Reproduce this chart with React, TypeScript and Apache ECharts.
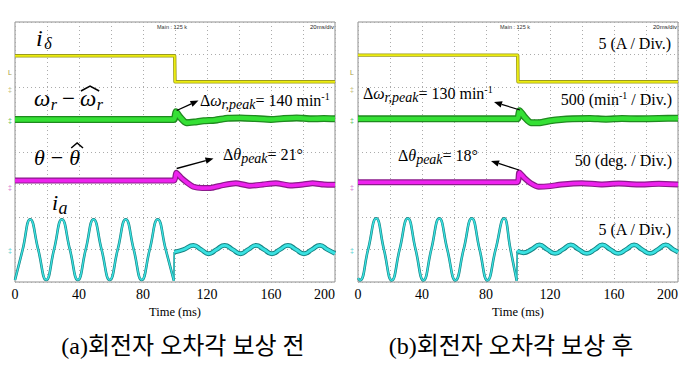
import React, { useEffect, useRef } from 'react';
import * as echarts from 'echarts';

// ---------- data (values in scope divisions: 0 = bottom edge, 8 = top edge) ----------
const TIME_LABELS = [0, 40, 80, 120, 160, 200];
const TIME_NAME = 'Time (ms)';
const CAPTION_A = '(a)회전자 오차각 보상 전';
const CAPTION_B = '(b)회전자 오차각 보상 후';

// (a) before compensation
const iDeltaA: number[][] = [[0, 6.96], [99.8, 6.96], [100, 6.16], [200, 6.16]];
const speedErrA: number[][] = [
  [0, 5.0], [99.2, 5.0], [100.6, 5.24], [103, 5.08], [107, 4.9], [112, 4.92], [118, 4.96],
  [125, 4.98], [133, 5.04], [141, 5.05], [150, 5.03], [160, 5.0], [168, 5.03], [176, 5.05],
  [185, 5.02], [193, 5.03], [200, 5.02],
];
const angleErrA: number[][] = [
  [0, 3.12], [99.4, 3.12], [100.8, 3.36], [104, 3.2], [108, 3.04], [111.5, 2.93], [117, 2.89],
  [123, 2.9], [130, 2.98], [138, 3.04], [147, 2.96], [155, 3.0], [163, 3.04], [172, 2.97],
  [180, 3.0], [186, 3.04], [193, 3.0], [200, 2.99],
];
const iaPreA: number[][] = [
  [0, 0.06], [4.8, 1.0], [9.5, 1.93], [14.5, 1.0], [19.5, 0.06], [24.4, 1.0], [29.3, 1.93],
  [34.3, 1.0], [39.3, 0.06], [44.2, 1.0], [49.1, 1.93], [54.1, 1.0], [59.2, 0.06], [64.2, 1.0],
  [69.2, 1.93], [74.2, 1.0], [79.2, 0.06], [84.2, 1.0], [89.2, 1.93], [94.2, 1.0], [99.3, 0.04],
];
const iaPostA: number[][] = [
  [99.5, 0.92], [105.5, 1.0], [111.5, 1.13], [116.3, 1.0], [121, 0.87], [126, 1.0], [131, 1.13],
  [136, 1.0], [141, 0.87], [145.8, 1.0], [150.6, 1.13], [155.6, 1.0], [160.6, 0.87], [165.6, 1.0],
  [170.6, 1.13], [175.6, 1.0], [180.6, 0.87], [185.6, 1.0], [190.6, 1.13], [195.3, 1.0], [200, 0.88],
];

// (b) after compensation
const iDeltaB: number[][] = [[0, 6.98], [99.8, 6.98], [100, 6.16], [200, 6.16]];
const speedErrB: number[][] = [
  [0, 5.02], [99.5, 5.02], [101, 5.27], [104, 5.08], [108, 4.9], [113, 4.9], [120, 4.96],
  [127, 5.0], [134, 5.02], [145, 5.03], [155, 5.01], [165, 5.03], [175, 5.02], [188, 5.03], [200, 5.04],
];
const angleErrB: number[][] = [
  [0, 3.07], [99.5, 3.07], [100.8, 3.37], [104, 3.2], [108, 3.04], [113, 2.93], [120, 2.95],
  [127, 3.0], [140, 3.04], [152, 3.0], [163, 3.03], [175, 3.0], [188, 3.02], [200, 3.0],
];
const iaPreB: number[][] = [
  [0, 0.12], [1.2, 0.05], [6.3, 1.0], [11.4, 1.96], [16.2, 1.0], [21.1, 0.05], [26, 1.0],
  [31.1, 1.96], [36, 1.0], [40.9, 0.05], [45.8, 1.0], [50.8, 1.96], [55.8, 1.0], [60.9, 0.05],
  [66, 1.0], [71.1, 1.96], [76, 1.0], [80.9, 0.05], [86, 1.0], [91.3, 1.96], [95.3, 1.0],
  [99.2, 0.04],
];
const iaPostB: number[][] = [
  [99.5, 0.96], [103.5, 0.9], [108.4, 1.0], [113.4, 1.14], [118.3, 1.0], [123.2, 0.88],
  [128, 1.0], [133, 1.14], [138, 1.0], [143, 0.88], [148, 1.0], [152.7, 1.14], [157.7, 1.0],
  [162.6, 0.88], [167.6, 1.0], [172.6, 1.14], [177.5, 1.0], [182.5, 0.88], [187.4, 1.0],
  [192.3, 1.14], [197, 1.0], [200, 0.92],
];

// ---------- helpers ----------
const SERIF_CSS = '"Liberation Serif", "Times New Roman", serif';
const SERIF_NAME = 'Liberation Serif';
const SANS = '"Liberation Sans", Arial, sans-serif';
let ctx: CanvasRenderingContext2D | null = null;
function measure(text: string, font: string): number {
  if (!ctx) ctx = document.createElement('canvas').getContext('2d');
  if (!ctx) return text.length * 8;
  ctx.font = font;
  return ctx.measureText(text).width;
}

type Part = { t: string; s: number; it?: boolean; dy?: number; dx?: number; at?: number };
const fontOf = (p: Part) => `${p.it ? 'italic ' : ''}${p.s}px ${SERIF_CSS}`;

function textEl(x: number, baseline: number, text: string, font: string, size: number, fill = '#000') {
  return {
    type: 'text', x, y: baseline - 0.32 * size, z: 100, silent: true,
    style: { text, font, fill, textAlign: 'left', textVerticalAlign: 'middle' },
  };
}

function seq(x0: number, base: number, parts: Part[], align: 'left' | 'right' = 'left') {
  const widths = parts.map((p) => measure(p.t, fontOf(p)) + (p.dx || 0));
  let x = align === 'right' ? x0 - widths.reduce((a, b) => a + b, 0) : x0;
  const els: any[] = [];
  parts.forEach((p) => {
    if (p.at !== undefined) x = p.at;
    else x += p.dx || 0;
    els.push(textEl(x, base + (p.dy || 0), p.t, fontOf(p), p.s));
    x += measure(p.t, fontOf(p));
  });
  return els;
}

function arrow(x1: number, y1: number, x2: number, y2: number) {
  const a = Math.atan2(y2 - y1, x2 - x1);
  const L = 8, W = 3.2;
  const bx = x2 - L * Math.cos(a), by = y2 - L * Math.sin(a);
  const px = -Math.sin(a) * W, py = Math.cos(a) * W;
  return [
    { type: 'line', z: 100, silent: true, shape: { x1, y1, x2: bx, y2: by }, style: { stroke: '#000', lineWidth: 1.3 } },
    { type: 'polygon', z: 100, silent: true, shape: { points: [[x2, y2], [bx + px, by + py], [bx - px, by - py]] }, style: { fill: '#000' } },
  ];
}

function hat(x1: number, x2: number, yBase: number, h: number) {
  return {
    type: 'polyline', z: 100, silent: true,
    shape: { points: [[x1, yBase], [(x1 + x2) / 2, yBase - h], [x2, yBase]] },
    style: { stroke: '#000', lineWidth: 1.5, fill: null },
  };
}

function small(x: number, y: number, text: string, fill: string, size = 6, align = 'center') {
  return {
    type: 'text', x, y, z: 100, silent: true,
    style: { text, font: `${size}px ${SANS}`, fill, textAlign: align, textVerticalAlign: 'middle' },
  };
}

function trace(data: number[][], g: number, dark: string, core: string, wd: number, wc: number, smooth: number | boolean) {
  const base = {
    type: 'line', xAxisIndex: g, yAxisIndex: g, data, showSymbol: false, symbol: 'none',
    smooth, silent: true, clip: true,
  };
  return [
    { ...base, lineStyle: { color: dark, width: wd, join: 'round' }, z: 2 },
    { ...base, lineStyle: { color: core, width: wc, join: 'round' }, z: 3 },
  ];
}

const GRIDS = [
  { left: 15, top: 22, width: 320, height: 260 },
  { left: 358, top: 22, width: 320, height: 260 },
];

export default function App() {
  const ref = useRef<HTMLDivElement>(null);
  useEffect(() => {
    if (!ref.current) return;
    const chart = echarts.init(ref.current, undefined, { renderer: 'svg' });

    const grid = GRIDS.map((g) => ({ ...g, show: true, borderColor: '#8f8f8f', borderWidth: 1, backgroundColor: '#fff' }));
    const xAxis = GRIDS.map((_, i) => ({
      type: 'value', gridIndex: i, min: 0, max: 200, interval: 20,
      axisLine: { show: false }, axisTick: { show: false },
      splitLine: { show: true, lineStyle: { color: '#ababab', type: [1, 3], width: 1 } },
      axisLabel: {
        margin: 5, color: '#000', fontFamily: SERIF_NAME, fontSize: 14, alignMaxLabel: 'right',
        formatter: (v: number) => (TIME_LABELS.includes(v) ? String(v) : ''),
      },
      name: TIME_NAME, nameLocation: 'middle', nameGap: 15,
      nameTextStyle: { color: '#000', fontFamily: SERIF_NAME, fontSize: 12.5 },
    }));
    const yAxis = GRIDS.map((_, i) => ({
      type: 'value', gridIndex: i, min: 0, max: 8, interval: 1,
      axisLine: { show: false }, axisTick: { show: false }, axisLabel: { show: false },
      splitLine: { show: true, lineStyle: { color: '#ababab', type: [1, 3], width: 1 } },
    }));

    const YD = '#9b9b1e', YC = '#ecec10';
    const GD = '#1f8a1f', GC = '#35e035';
    const MD = '#8a1a8a', MC = '#ee22ee';
    const CD = '#168484', CC = '#3ae2e2';

    const cyan = (pre: number[][], post: number[][], g: number) => [
      ...trace(pre, g, CD, CC, 2.6, 1.3, true),
      ...trace([pre[pre.length - 1], post[0]], g, CD, CC, 1.6, 0.8, false),
      ...trace(post, g, CD, CC, 4.8, 2.8, true),
    ];

    const series = [
      ...trace(iDeltaA, 0, YD, YC, 3.4, 1.8, false),
      ...trace(speedErrA, 0, GD, GC, 7, 4.4, 0.2),
      ...trace(angleErrA, 0, MD, MC, 6, 3.6, 0.2),
      ...cyan(iaPreA, iaPostA, 0),
      ...trace(iDeltaB, 1, YD, YC, 3.4, 1.8, false),
      ...trace(speedErrB, 1, GD, GC, 7, 4.4, 0.2),
      ...trace(angleErrB, 1, MD, MC, 6, 3.6, 0.2),
      ...cyan(iaPreB, iaPostB, 1),
    ];

    const captionFont = `24px "Liberation Serif", "Noto Sans CJK KR"`;

    const elements: any[] = [
      // (a) trace names
      ...seq(36, 46, [{ t: 'i', s: 24, it: true }, { t: 'δ', s: 16, it: true, dy: 3, dx: 1.5 }]),
      ...seq(34, 106, [
        { t: 'ω', s: 23, it: true }, { t: 'r', s: 16, it: true, dy: 4, dx: 0.5 },
        { t: '−', s: 23, dx: 5 }, { t: 'ω', s: 23, it: true, dx: 5 }, { t: 'r', s: 16, it: true, dy: 4, dx: 0.5 },
      ]),
      ...seq(34, 165, [{ t: 'θ', s: 22, it: true }, { t: '−', s: 22, dx: 6 }, { t: 'θ', s: 22, it: true, dx: 6 }]),
      ...seq(52, 210, [{ t: 'i', s: 22, it: true }, { t: 'a', s: 18, it: true, dy: 4, dx: 0.5 }]),
      // (a) annotations
      ...seq(200, 106, [
        { t: 'Δ', s: 16 }, { t: 'ω', s: 16, it: true }, { t: 'r,peak', s: 14, it: true, dy: 3 },
        { t: '= 140 min', s: 16 }, { t: '-1', s: 10, dy: -6 },
      ]),
      ...arrow(176.7, 110.5, 198.5, 100.5),
      ...seq(223, 160, [
        { t: 'Δ', s: 16 }, { t: 'θ', s: 16, it: true }, { t: 'peak', s: 14, it: true, dy: 3 },
        { t: '= 21°', s: 16 },
      ]),
      ...arrow(176.7, 168.5, 213.5, 158.5),
      // (b) annotations
      ...seq(363, 98.5, [
        { t: 'Δ', s: 16 }, { t: 'ω', s: 16, it: true }, { t: 'r,peak', s: 14, it: true, dy: 3 },
        { t: '= 130 min', s: 16 }, { t: '-1', s: 10, dy: -6 },
      ]),
      ...arrow(520, 110, 494, 102),
      ...seq(398, 160.5, [
        { t: 'Δ', s: 16 }, { t: 'θ', s: 16, it: true }, { t: 'peak', s: 14, it: true, dy: 3 },
        { t: '= 18°', s: 16 },
      ]),
      ...arrow(519, 170, 491, 161),
      // (b) scales
      ...seq(672, 48.5, [{ t: '5 (A / Div.)', s: 16 }], 'right'),
      ...seq(672, 105, [{ t: '500 (min', s: 16 }, { t: '-1', s: 10, dy: -6 }, { t: ' / Div.)', s: 16 }], 'right'),
      ...seq(672, 166, [{ t: '50 (deg. / Div.)', s: 16 }], 'right'),
      ...seq(672, 234.5, [{ t: '5 (A / Div.)', s: 16 }], 'right'),
      // scope header texts
      small(172, 27, 'Main : 125 k', '#333', 5.5),
      small(334, 27, '20ms/div', '#222', 6, 'right'),
      small(515, 27, 'Main : 125 k', '#333', 5.5),
      small(677, 27, '20ms/div', '#222', 6, 'right'),
      // channel markers
      ...[10, 352].flatMap((x) => [
        small(x, 72, 'L', '#a89a3a', 7),
        small(x, 89, '‡', '#c0b870', 7),
        small(x, 120, '‡', '#55c055', 7),
        small(x, 187, '‡', '#d070d0', 7),
        small(x, 250, '‡', '#50d0d0', 7),
      ]),
      // captions
      {
        type: 'text', x: 183, y: 346, z: 100, silent: true,
        style: { text: CAPTION_A, font: captionFont, fill: '#000', textAlign: 'center', textVerticalAlign: 'middle' },
      },
      {
        type: 'text', x: 511, y: 346, z: 100, silent: true,
        style: { text: CAPTION_B, font: captionFont, fill: '#000', textAlign: 'center', textVerticalAlign: 'middle' },
      },
    ];

    // hats over the estimated symbols, placed from measured glyph widths
    const wOm = measure('ω', `italic 23px ${SERIF_CSS}`);
    const wR = measure('r', `italic 16px ${SERIF_CSS}`);
    const wMinus = measure('−', `23px ${SERIF_CSS}`);
    const om2x = 34 + wOm + 0.5 + wR + 5 + wMinus + 5;
    elements.push(hat(om2x + 1, om2x + wOm + 3, 91, 5));
    const wTh = measure('θ', `italic 22px ${SERIF_CSS}`);
    const wMinus2 = measure('−', `22px ${SERIF_CSS}`);
    const th2x = 34 + wTh + 6 + wMinus2 + 6;
    elements.push(hat(th2x + 2, th2x + wTh + 3, 148, 5));

    chart.setOption({
      animation: false,
      backgroundColor: '#fff',
      textStyle: { fontFamily: SERIF_NAME },
      grid, xAxis, yAxis, series,
      graphic: { elements },
    });
    return () => chart.dispose();
  }, []);
  return <div ref={ref} style={{ position: 'absolute', left: 0, top: 0, width: 691, height: 370 }} />;
}
